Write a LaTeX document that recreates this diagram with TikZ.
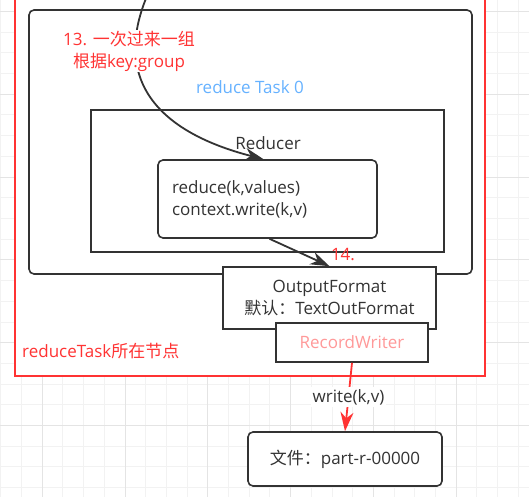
\documentclass[tikz,border=0pt]{standalone}
\usepackage{fontspec}
\setmainfont{Open Sans}
\newfontfamily\cjk{Noto Sans CJK SC}
\usepackage{tikz}
\usetikzlibrary{arrows.meta,positioning}
\definecolor{nodered}{HTML}{FF3333}
\definecolor{taskblue}{HTML}{66B2FF}
\definecolor{writerpink}{HTML}{FF9999}
\definecolor{darkline}{HTML}{333333}
\definecolor{gridminor}{HTML}{F2F2F2}
\definecolor{gridmajor}{HTML}{E4E4E4}

\begin{document}
\begin{tikzpicture}[x=1pt,y=-1pt]
	\tikzset{box/.style={draw=darkline,line width=1.6pt,fill=white,inner sep=0pt,text=darkline,align=center,font=\fontsize{17}{22}\selectfont}}
	\tikzset{rbox/.style={box,rounded corners=5pt}}
	\tikzset{flow/.style={draw=darkline,line width=1.8pt,-{Stealth[length=19pt,width=13pt,inset=6pt]}}}
	\tikzstyle{lbl}=[inner sep=0pt,text=darkline,align=center,font=\fontsize{17}{22}\selectfont]
	\tikzstyle{redlbl}=[lbl,text=nodered]
	\useasboundingbox (0,0) rectangle (529,497);
	\clip (0,0) rectangle (529,497);

	%% background grid
	\foreach \i in {0,...,25}
		\draw[gridminor,line width=0.8pt] ({0.7+20.7*\i},0) -- ({0.7+20.7*\i},497);
	\foreach \i in {0,...,24}
		\draw[gridminor,line width=0.8pt] (0,{11.4+20.7*\i}) -- (529,{11.4+20.7*\i});
	\foreach \i in {2,6,...,26}
		\draw[gridmajor,line width=0.8pt] ({0.7+20.7*\i},0) -- ({0.7+20.7*\i},497);
	\foreach \i in {0,4,...,24}
		\draw[gridmajor,line width=0.8pt] (0,{11.4+20.7*\i}) -- (529,{11.4+20.7*\i});

	%% node and task boxes
	\node[draw=nodered,line width=1.8pt,fill=white,minimum width=470pt,minimum height=381pt,inner sep=0pt] (host) at (250,185.5) {};
	\node[rbox,minimum width=443pt,minimum height=264pt] (task) at (250.5,142) {};
	\node[box,minimum width=353pt,minimum height=142pt] (reducer) at (267.5,181) {};
	\node[rbox,minimum width=219pt,minimum height=78pt,align=left,text width=191pt] (func) at (267.5,199) {reduce(k,values)\\context.write(k,v)};
	\node[box,minimum width=213pt,minimum height=62pt] (outfmt) at (329.5,298) {OutputFormat\\{\cjk 默认：}TextOutFormat};
	\node[box,minimum width=152pt,minimum height=39pt,text=writerpink] (writer) at (352,342.5) {RecordWriter};
	\node[rbox,minimum width=194pt,minimum height=54pt] (file) at (345,459) {{\cjk 文件：}part-r-00000};

	%% connectors
	\coordinate (feed) at (147,-4);
	\draw[flow] (feed) .. controls (112,80) and (158,132) .. ([xshift=-4pt]func.north);
	\draw[flow] ([xshift=2pt]func.south) -- (outfmt.north);
	\draw[flow,draw=nodered] (writer.south) -- node[lbl,fill=white,inner sep=2pt] (writelbl) {write(k,v)} (file.north);

	%% labels
	\node[redlbl,fill=white,inner sep=1pt] (grouplbl) at (129,51) {13. {\cjk 一次过来一组}\\{\cjk 根据}key:group};
	\node[lbl,text=taskblue] (tasklbl) at (250,87) {reduce Task 0};
	\node[lbl] (reducerlbl) at (268,143) {Reducer};
	\node[redlbl] (steplbl) at (343,255) {14.};
	\node[redlbl,anchor=west] (hostlbl) at (22,351) {reduceTask{\cjk 所在节点}};
\end{tikzpicture}
\end{document}
